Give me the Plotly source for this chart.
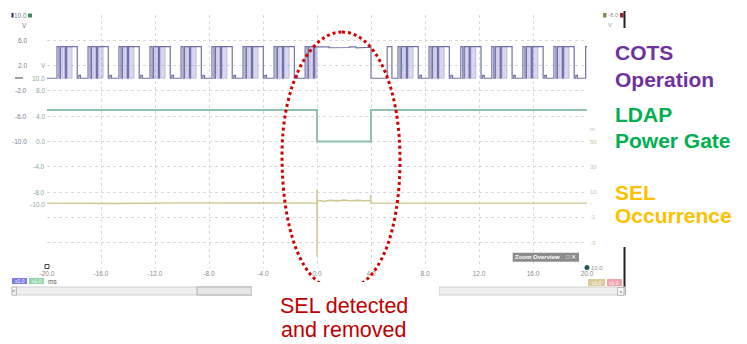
import plotly.graph_objects as go

# ---------------- data ----------------
time_ticks = [-20.0, -16.0, -12.0, -8.0, -4.0, 0.0, 4.0, 8.0, 12.0, 16.0, 20.0]
time_tick_labels = ["-20.0", "-16.0", "-12.0", "-8.0", "-4.0", "0.0", "4.0",
                    "8.0", "12.0", "16.0", "20.0"]

cots_axis_ticks = [10.0, 6.0, 2.0, -2.0, -6.0, -10.0]
cots_axis_labels = ["10.0", "6.0", "2.0", "-2.0", "-6.0", "-10.0"]
ldap_axis_ticks = [10.0, 8.0, 4.0, 0.0, -4.0, -8.0, -10.0]
ldap_axis_labels = ["10.0", "8.0", "4.0", "0.0", "-4.0", "-8.0", "-10.0"]
sel_axis_ticks = [60.0, 50.0, 30.0, 10.0, 1.3, -10.0, -30.0]
sel_axis_labels = ["m", "50", "30", "10", "-", "-1", "-3"]   # clipped on screen

# COTS operation (V): repeated bursts, suppressed during the SEL
cots_initial_level = 0.0
cots_burst_starts = [-19.26, -16.96, -14.67, -12.37, -10.07, -7.78, -5.48, -3.18,
                     -0.88, 6.0, 8.3, 10.65, 12.95, 15.25, 17.55, 19.9]
cots_edge_offsets = [0.0, 0.15, 0.26, 0.63, 0.70, 1.50, 1.62, 1.74]
cots_edge_levels = [5.0, 0.0, 5.0, 0.0, 5.0, 0.0, 0.45, 0.0]
cots_dense_from = [0.36, 0.78]
cots_dense_to = [0.57, 1.12]
sel_start, sel_end = 0.0, 6.0
cots_sel_times = [0.0, 0.45, 0.9, 1.4, 1.9, 2.4, 2.9, 3.4, 3.8, 4.0, 5.2, 5.55]
cots_sel_levels = [4.9, 4.97, 4.82, 4.92, 4.86, 4.97, 4.82, 4.92, 4.9, 0.0, 5.0, 0.0]

# LDAP power gate (V)
ldap_initial_level = 5.0
ldap_edge_times = [0.0, 4.0]
ldap_edge_levels = [0.0, 5.0]

# SEL occurrence (mV)
sel_t = [-20.0, -15.0, -10.0, -5.0, -0.01, 0.0, 0.0, 0.02, 0.5, 1.0, 1.5, 2.0,
         2.5, 3.0, 3.5, 3.95, 3.97, 4.0, 4.1, 10.0, 20.0]
sel_v = [1.3, 1.0, 1.5, 1.2, 1.3, 12.0, -41.0, 3.5, 2.8, 3.6, 3.0, 3.8,
         3.1, 3.6, 3.2, 3.4, 7.5, 1.3, 1.3, 1.1, 1.3]

# ---------------- build step series ----------------
def step_series(initial, events, t0=-20.0, t1=20.0):
    xs, ys, cur = [t0], [initial], initial
    for t, v in sorted(events):
        if t > t1:
            break
        xs += [t, t]
        ys += [cur, v]
        cur = v
    xs.append(t1)
    ys.append(cur)
    return xs, ys

cots_events = []
for s in cots_burst_starts:
    for off, lv in zip(cots_edge_offsets, cots_edge_levels):
        t = s + off
        if sel_start <= t < sel_end:
            continue
        cots_events.append((t, lv))
cots_events += list(zip(cots_sel_times, cots_sel_levels))
cots_x, cots_y = step_series(cots_initial_level, cots_events)

dense_x, dense_y = [], []
for s in cots_burst_starts:
    for a, b in zip(cots_dense_from, cots_dense_to):
        x0, x1 = s + a, s + b
        if sel_start <= x0 < sel_end:
            continue
        if x0 < sel_start < x1:
            x1 = sel_start
        x1 = min(x1, 20.0)
        if x0 >= 20.0:
            continue
        dense_x += [x0, x1, x1, x0, x0, None]
        dense_y += [0.0, 0.0, 5.0, 5.0, 0.0, None]

ldap_x, ldap_y = step_series(ldap_initial_level, list(zip(ldap_edge_times, ldap_edge_levels)))

# ---------------- figure ----------------
W, H = 747, 344
PL, PR, PT, PB = 47, 587, 15, 268


def fx(px):
    return (px - PL) / (PR - PL)


def fy(py):
    return (PB - py) / (PB - PT)


fig = go.Figure()
fig.add_trace(go.Scatter(x=dense_x, y=dense_y, mode="lines", fill="toself",
                         fillcolor="rgba(150,150,215,0.38)",
                         line=dict(color="rgba(120,120,185,0.6)", width=0.6),
                         yaxis="y", hoverinfo="skip"))
fig.add_trace(go.Scatter(x=cots_x, y=cots_y, mode="lines",
                         line=dict(color="#7272a8", width=1.2), yaxis="y"))
fig.add_trace(go.Scatter(x=ldap_x, y=ldap_y, mode="lines",
                         line=dict(color="#8fc2ab", width=2), yaxis="y2"))
fig.add_trace(go.Scatter(x=sel_t, y=sel_v, mode="lines",
                         line=dict(color="#cfc58e", width=1.4), yaxis="y3"))

FONT = "Liberation Sans, Arial, sans-serif"
anns = []


def ann(text, x, y, size, color, xanchor="center", yanchor="middle",
        xref="paper", yref="paper", bold=False):
    if bold:
        text = "<b>" + text + "</b>"
    anns.append(dict(text=text, x=x, y=y, xref=xref, yref=yref, showarrow=False,
                     xanchor=xanchor, yanchor=yanchor, borderpad=0,
                     font=dict(family=FONT, size=size, color=color)))


# channel scale labels
for v, lab in zip(cots_axis_ticks, cots_axis_labels):
    ann(lab, fx(28), v, 6.5, "#777e90", xanchor="right", yref="y")
for v, lab in zip(ldap_axis_ticks, ldap_axis_labels):
    ann(lab, fx(46), v, 6.5, "#86a898", xanchor="right", yref="y2")
for v, lab in zip(sel_axis_ticks, sel_axis_labels):
    ann(lab, fx(589), v, 6, "#c9c29a", xanchor="left", yref="y3")
ann("V", fx(24), fy(25), 6.5, "#777e90")
ann("V", fx(43), fy(66), 6.5, "#86a898")
ann("-8.0", fx(613), fy(15), 6, "#999999")
ann("V", fx(610), fy(25), 6, "#999999")
ann("10.0", fx(590), fy(267.5), 6, "#999999", xanchor="left")
ann("ms", fx(47), fy(281), 6.5, "#555555", xanchor="left")
ann("x1.0", fx(19.5), fy(281), 5, "white")
ann("x1.0", fx(36.5), fy(281), 5, "white")
ann("x1.0", fx(596.5), fy(282.5), 5, "white")
ann("x1.0", fx(614.5), fy(282.5), 5, "white")
ann("Zoom Overview", fx(514), fy(257.3), 6, "white", xanchor="left", bold=True)
ann("□ ✕", fx(577), fy(257.3), 6, "white", xanchor="right")
ann("&lt;", fx(14), fy(291), 6, "#666666")
ann("&gt;", fx(621), fy(291.5), 6, "#666666")

# right-hand legend text
ann("COTS", fx(614), fy(52.5), 21, "#7030A0", xanchor="left", bold=True)
ann("Operation", fx(614), fy(80), 21, "#7030A0", xanchor="left", bold=True)
ann("LDAP", fx(614), fy(114.5), 21, "#00B050", xanchor="left", bold=True)
ann("Power Gate", fx(614), fy(140.5), 21, "#00B050", xanchor="left", bold=True)
ann("SEL", fx(614), fy(192.5), 21, "#FFC000", xanchor="left", bold=True)
ann("Occurrence", fx(614), fy(215.5), 21, "#FFC000", xanchor="left", bold=True)

# callout text
ann("SEL detected", fx(344), fy(306), 21.5, "#C00000")
ann("and removed", fx(344), fy(329.5), 21.5, "#C00000")

shapes = []


def rect(x0, y0, x1, y1, fill, line=None, lw=0):
    shapes.append(dict(type="rect", xref="paper", yref="paper",
                       x0=fx(x0), x1=fx(x1), y0=fy(y0), y1=fy(y1),
                       fillcolor=fill, line=dict(color=line or fill, width=lw),
                       layer="above"))


def seg(x0, y0, x1, y1, color, w):
    shapes.append(dict(type="line", xref="paper", yref="paper",
                       x0=fx(x0), x1=fx(x1), y0=fy(y0), y1=fy(y1),
                       line=dict(color=color, width=w), layer="above"))


# scope UI bits
rect(11.5, 13, 13.5, 17.5, "#1c2a7a")
rect(28, 13.5, 32, 17.5, "#3d8a5c")
seg(15, 78, 23, 78, "#444444", 1)
rect(603, 13, 606.5, 17.5, "#8a8a50")
rect(620, 13, 623.5, 17.5, "#a02030")
seg(624.5, 11, 624.5, 28, "#222222", 2)
seg(624.5, 247, 624.5, 295, "#222222", 2)
rect(45, 264.5, 49, 268.5, "white", "#444444", 1)
shapes.append(dict(type="circle", xref="paper", yref="paper",
                   x0=fx(584.5), x1=fx(589.5), y0=fy(265), y1=fy(270),
                   fillcolor="#1f5c5c", line=dict(color="#1f5c5c", width=0),
                   layer="above"))
rect(512.7, 252.7, 579, 261.7, "#8c8c8c")
rect(12, 278, 27, 284, "#7d7de8")
rect(29, 278, 44, 284, "#8fd8a8")
rect(588, 279, 605, 286, "#dccb9c")
rect(607, 279, 622, 286, "#f2a2aa")
rect(12, 287, 252, 295, "#efefef", "#cfcfcf", 1)
rect(197, 287, 252, 295, "#e6e6e6", "#b0b0b0", 1)
rect(12, 287, 16.5, 295, "#f6f6f6", "#bbbbbb", 1)
rect(439, 287, 625, 295, "#efefef", "#cfcfcf", 1)
rect(617.5, 287.5, 624, 295.5, "#f6f6f6", "#bbbbbb", 1)

# red dotted callout oval
oval_pts = [(342, 32), (375, 32), (400, 85), (400, 160), (400, 230), (380, 290),
            (341, 290), (300, 290), (282, 225), (282, 155), (282, 85), (310, 32),
            (342, 32)]
P = [(fx(a), fy(b)) for a, b in oval_pts]
path = "M {:.5f},{:.5f}".format(*P[0])
for i in range(1, len(P), 3):
    path += " C {:.5f},{:.5f} {:.5f},{:.5f} {:.5f},{:.5f}".format(*P[i], *P[i + 1], *P[i + 2])
shapes.append(dict(type="path", xref="paper", yref="paper", path=path,
                   line=dict(color="#d40000", width=3, dash="dot"), layer="above"))
rect(252, 282, 439, 344, "white")

grid = dict(showgrid=True, gridcolor="#d9d9d9", griddash="dot", gridwidth=1,
            zeroline=False, showline=False)
fig.update_layout(
    width=W, height=H, autosize=False,
    margin=dict(l=PL, r=W - PR, t=PT, b=H - PB, pad=0),
    paper_bgcolor="white", plot_bgcolor="white", showlegend=False,
    xaxis=dict(range=[-20, 20], tickvals=time_ticks, ticktext=time_tick_labels,
               tickfont=dict(family=FONT, size=6.5, color="#8a8a8a"), ticks="",
               **grid),
    yaxis=dict(range=[-30, 10], tick0=10, dtick=4, showticklabels=False, ticks="",
               **grid),
    yaxis2=dict(range=[-20, 20], overlaying="y", visible=False),
    yaxis3=dict(range=[-50, 150], overlaying="y", visible=False),
    annotations=anns, shapes=shapes,
)
fig.write_html("out.html", config={"displayModeBar": False},
               post_script="document.body.style.margin='0';"
                           "document.body.style.overflow='hidden';")
